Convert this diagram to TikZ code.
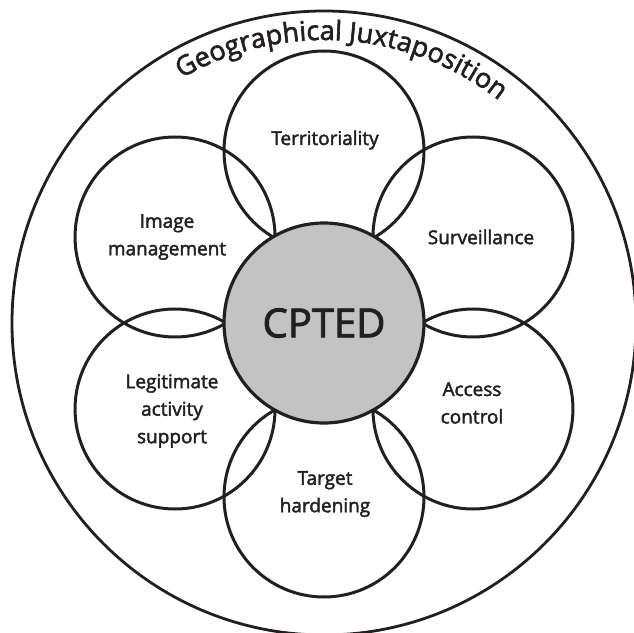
\documentclass[tikz,border=0pt]{standalone}
\usepackage{fontspec}
\setmainfont{Open Sans}[FakeBold=2.2]
\usepackage{tikz}
\usetikzlibrary{
    decorations.text,
    positioning,
}
\definecolor{MyInk}{RGB}{35,31,32}
\definecolor{MyGray}{RGB}{195,195,195}

\begin{document}
\begin{tikzpicture}[
    x=1pt,y=1pt,
    petal/.style={circle,draw=MyInk,line width=3pt,minimum size=200pt,inner sep=0pt},
    hub/.style={circle,draw=MyInk,fill=MyGray,line width=3.2pt,minimum size=200pt,inner sep=0pt,
        font=\fontsize{40}{40}\selectfont,text=MyInk},
    lbl/.style={align=center,text=MyInk,font=\fontsize{19}{27.5}\selectfont}
    ]
    \useasboundingbox (-324,-309) rectangle (310,323);

    \node[circle,draw=MyInk,line width=2.8pt,minimum size=624pt,inner sep=0pt] (outer) at (0,0) {};

    \node[petal] (terr) at (90:172) {};
    \node[petal] (surv) at (30:172) {};
    \node[petal] (access) at (-30:172) {};
    \node[petal] (target) at (-90:174) {};
    \node[petal] (legit) at (210:172) {};
    \node[petal] (image) at (150:172) {};

    \node[hub] (cpted) at (0,0) {CPTED};

    \node[lbl] (terrtext) at (1,183) {Territoriality};
    \node[lbl] (survtext) at (157,86) {Surveillance};
    \node[lbl] (imagetext) at (-157,86) {Image\\management};
    \node[lbl] (legittext) at (-152,-88) {Legitimate\\activity\\support};
    \node[lbl] (accesstext) at (148,-80) {Access\\control};
    \node[lbl] (targettext) at (1,-171) {Target\\hardening};

    \path[decorate,decoration={text along path,text align=center,
        text={|\fontsize{27}{27}\selectfont\color{MyInk}|Geographical Juxtaposition}}]
        (146:283) arc[start angle=146,end angle=26,radius=283];
\end{tikzpicture}
\end{document}
